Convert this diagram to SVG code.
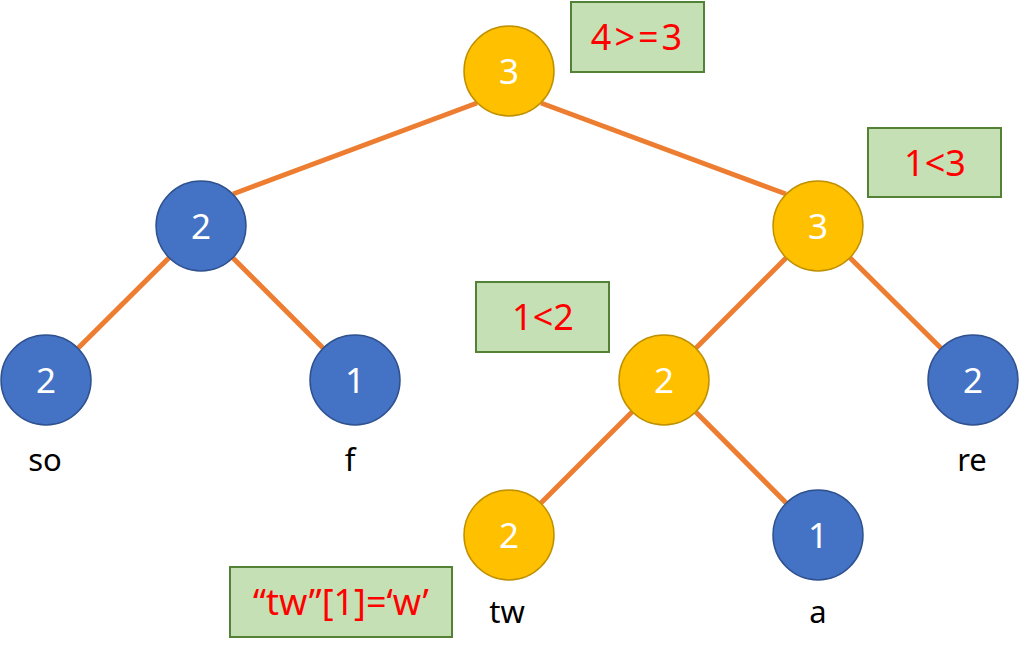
<svg xmlns="http://www.w3.org/2000/svg" width="1019" height="655" viewBox="0 0 1019 655">
<style>
.e{stroke:#ED7D31;stroke-width:5;fill:none}
.y{fill:#FFC000;stroke:#BF9000;stroke-width:1.5}
.b{fill:#4472C4;stroke:#2F528F;stroke-width:1.5}
.n{fill:#fff;font-family:"Noto Sans","Noto Sans CJK KR",sans-serif;font-size:35px;text-anchor:middle;dominant-baseline:central}
.l{fill:#000;font-family:"Noto Sans","Noto Sans CJK KR",sans-serif;font-size:31px;text-anchor:middle;dominant-baseline:central}
.bx{fill:#C5E0B4;stroke:#538135;stroke-width:2}
.r{fill:#FF0000;font-family:"Noto Sans","Noto Sans CJK KR",sans-serif;font-size:36px;text-anchor:middle;dominant-baseline:central}
</style>
<rect width="1019" height="655" fill="#fff"/>
<g id="connectors">
<line class="e" x1="477" y1="103" x2="233" y2="194"/>
<line class="e" x1="541" y1="103" x2="786" y2="194"/>
<line class="e" x1="201" y1="226" x2="46" y2="380"/>
<line class="e" x1="201" y1="226" x2="355" y2="380"/>
<line class="e" x1="818" y1="226" x2="664" y2="380"/>
<line class="e" x1="818" y1="226" x2="973" y2="380"/>
<line class="e" x1="664" y1="380" x2="509" y2="535"/>
<line class="e" x1="664" y1="380" x2="818" y2="535"/>
</g>
<g id="n1"><circle class="y" cx="509" cy="71" r="45"/><text class="n" x="509" y="70">3</text></g>
<g id="n2"><circle class="b" cx="201" cy="226" r="45"/><text class="n" x="201" y="225">2</text></g>
<g id="n3"><circle class="y" cx="818" cy="226" r="45"/><text class="n" x="818" y="225">3</text></g>
<g id="n4"><circle class="b" cx="46" cy="380" r="45"/><text class="n" x="46" y="379">2</text><text class="l" x="45" y="459">so</text></g>
<g id="n5"><circle class="b" cx="355" cy="380" r="45"/><text class="n" x="355" y="379">1</text><text class="l" x="350" y="459">f</text></g>
<g id="n6"><circle class="y" cx="664" cy="380" r="45"/><text class="n" x="664" y="379">2</text></g>
<g id="n7"><circle class="b" cx="973" cy="380" r="45"/><text class="n" x="973" y="379">2</text><text class="l" x="972" y="459">re</text></g>
<g id="n8"><circle class="y" cx="509" cy="535" r="45"/><text class="n" x="509" y="534">2</text><text class="l" x="507" y="611">tw</text></g>
<g id="n9"><circle class="b" cx="818" cy="535" r="45"/><text class="n" x="818" y="534">1</text><text class="l" x="818" y="611">a</text></g>
<g id="box1"><rect class="bx" x="571" y="2" width="133" height="70"/><text class="r" x="638" y="36" letter-spacing="3">4&gt;=3</text></g>
<g id="box2"><rect class="bx" x="868" y="128" width="133" height="69"/><text class="r" x="935" y="162">1&lt;3</text></g>
<g id="box3"><rect class="bx" x="476" y="282" width="133" height="70"/><text class="r" x="543" y="316">1&lt;2</text></g>
<g id="box4"><rect class="bx" x="230" y="567" width="222" height="70"/><text class="r" x="341" y="601">“tw”[1]=‘w’</text></g>
</svg>
